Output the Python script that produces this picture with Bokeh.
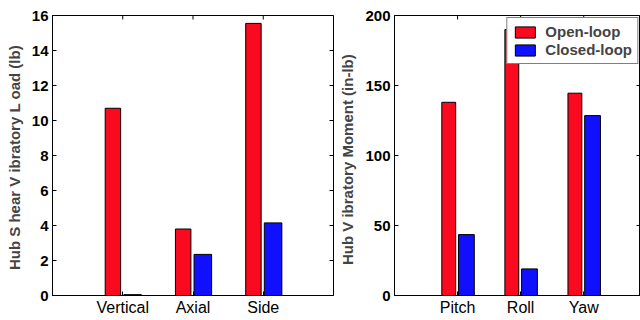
import numpy as np
from bokeh.plotting import figure
from bokeh.layouts import row
from bokeh.models import FixedTicker, Range1d, ColumnDataSource
from bokeh.embed import file_html
from bokeh.resources import INLINE

left_categories = ["Vertical", "Axial", "Side"]
left_open = [10.7, 3.8, 15.55]
left_closed = [0.05, 2.35, 4.15]
left_yticks = [0, 2, 4, 6, 8, 10, 12, 14, 16]

right_categories = ["Pitch", "Roll", "Yaw"]
right_open = [138, 190, 144.5]
right_closed = [43.5, 19, 128.5]
right_yticks = [0, 50, 100, 150, 200]

series_names = ["Open-loop", "Closed-loop"]
RED = "#FA0A1E"
BLUE = "#1010FF"
FONT = "Liberation Sans"


def style_axis(ax, size, bold):
    ax.major_tick_in = 4
    ax.major_tick_out = 0
    ax.minor_tick_in = 0
    ax.minor_tick_out = 0
    ax.axis_line_color = "black"
    ax.axis_line_width = 1
    ax.major_tick_line_color = "black"
    ax.major_label_text_font = FONT
    ax.major_label_text_color = "black"
    ax.major_label_standoff = 4
    ax.major_label_text_font_style = "bold" if bold else "normal"
    ax.major_label_text_font_size = size


def make_plot(cats, opn, cls, yticks, ylabel, ymax, xmax, w, bl, br, legend):
    xs = np.arange(1, len(cats) + 1)
    p = figure(width=w, height=320, output_backend="svg", toolbar_location=None,
               x_range=Range1d(0, xmax), y_range=Range1d(0, ymax),
               min_border_left=bl, min_border_right=br, min_border_top=15,
               min_border_bottom=25, tools="")
    p.outline_line_color = "black"
    p.outline_line_width = 1
    p.xgrid.visible = False
    p.ygrid.visible = False

    src = ColumnDataSource(dict(xo=xs - 0.14, xc=xs + 0.14, o=opn, c=cls))
    kw_o = dict(legend_label=series_names[0]) if legend else {}
    kw_c = dict(legend_label=series_names[1]) if legend else {}
    p.vbar(x="xo", top="o", width=0.22, source=src, fill_color=RED,
           line_color="black", line_width=1, **kw_o)
    p.vbar(x="xc", top="c", width=0.25, source=src, fill_color=BLUE,
           line_color="black", line_width=1, **kw_c)

    # inward ticks on the top and right edges (half of each dash is clipped by the frame)
    p.scatter(x=list(xs), y=[ymax] * len(xs), marker="dash", angle=np.pi / 2,
              size=8, line_color="black", line_width=1)
    p.scatter(x=[xmax] * len(yticks), y=yticks, marker="dash",
              size=8, line_color="black", line_width=1)

    xa = p.xaxis[0]
    xa.ticker = FixedTicker(ticks=list(xs))
    xa.major_label_overrides = {int(i): c for i, c in zip(xs, cats)}
    style_axis(xa, "16px", False)
    xa.major_label_standoff = 3

    ya = p.yaxis[0]
    ya.ticker = FixedTicker(ticks=yticks)
    style_axis(ya, "15px", True)
    ya.axis_label = ylabel
    ya.axis_label_text_font = FONT
    ya.axis_label_text_font_style = "bold"
    ya.axis_label_text_font_size = "15px"
    ya.axis_label_standoff = 6

    if legend:
        lg = p.legend[0]
        lg.location = "top_right"
        lg.margin = 2
        lg.padding = 5
        lg.spacing = 1
        lg.glyph_width = 25
        lg.glyph_height = 14
        lg.label_standoff = 8
        lg.label_text_font = FONT
        lg.label_text_font_style = "bold"
        lg.label_text_font_size = "15px"
        lg.label_height = 14
        lg.border_line_color = "black"
        lg.border_line_width = 1.5
        lg.background_fill_alpha = 1
    return p


p1 = make_plot(left_categories, left_open, left_closed, left_yticks,
               "Hub S hear V ibratory L oad  (lb)", 16, 4, 336, 52, 3, False)
p2 = make_plot(right_categories, right_open, right_closed, right_yticks,
               "Hub V ibratory  Moment  (in-lb)", 200, 3.9, 304, 56, 0, True)

layout = row(p1, p2, spacing=0)
open("out.html", "w").write(file_html(layout, INLINE))
